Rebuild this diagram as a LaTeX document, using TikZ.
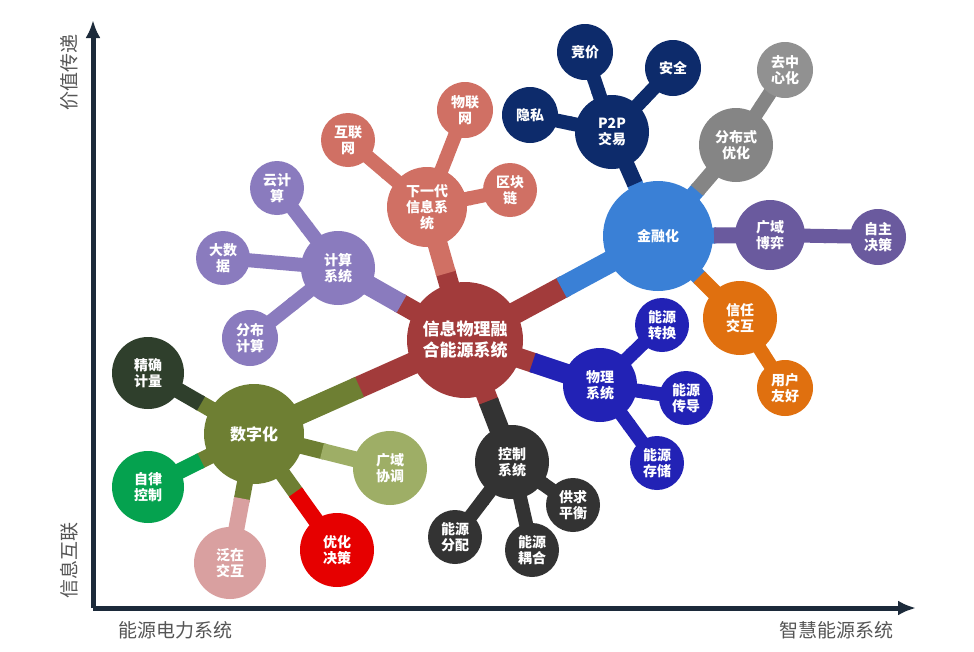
\documentclass[tikz,border=0pt]{standalone}
\usepackage{fontspec}
\setmainfont{Noto Sans CJK SC}
\usetikzlibrary{calc,arrows.meta}
\pgfdeclarelayer{paper}
\pgfdeclarelayer{background}
\pgfsetlayers{paper,background,main}
\definecolor{cCen}{HTML}{A23B3B}
\definecolor{cNext}{HTML}{D07064}
\definecolor{cComp}{HTML}{8A7BBE}
\definecolor{cFin}{HTML}{3A80D6}
\definecolor{cPtp}{HTML}{0D2B6B}
\definecolor{cDist}{HTML}{858585}
\definecolor{cGame}{HTML}{6A5A9E}
\definecolor{cTrust}{HTML}{E0700F}
\definecolor{cPhys}{HTML}{2222B5}
\definecolor{cCtrl}{HTML}{333333}
\definecolor{cDigi}{HTML}{6E7F33}
\definecolor{cJq}{HTML}{2F3F2C}
\definecolor{cZl}{HTML}{05A24F}
\definecolor{cFz}{HTML}{D9A0A0}
\definecolor{cYh}{HTML}{E60000}
\definecolor{cGy}{HTML}{9EAE66}
\definecolor{cAxis}{HTML}{1C2A3A}
\definecolor{cLbl}{HTML}{555555}
\tikzset{
  bub/.style={circle,inner sep=0pt,text=white,align=center,font=\fontsize{14}{16}\selectfont\bfseries},
  axislbl/.style={text=cLbl,font=\fontsize{19}{21}\selectfont}
}
\newcommand{\mybranch}[5]{%
  \begin{pgfonlayer}{background}
  \draw[line width=#5,#3] (#1.center) -- ($(#1)!0.52!(#2)$);
  \draw[line width=#5,#4] ($(#1)!0.5!(#2)$) -- (#2.center);
  \end{pgfonlayer}}
\begin{document}
\begin{tikzpicture}[x=1pt,y=-1pt]
\begin{pgfonlayer}{paper}
\fill[white] (0,0) rectangle (974,651);
\end{pgfonlayer}
\useasboundingbox (0,0) rectangle (974,651);
% axes
\coordinate (o) at (93,608);
\coordinate (ytop) at (93,20);
\coordinate (xend) at (916,608);
\draw[cAxis,line width=5,-{Latex[length=18,width=15]}] (o) -- (ytop);
\draw[cAxis,line width=5,-{Latex[length=18,width=15]}] (o) -- (xend);
\node[axislbl,rotate=90] (ly1) at (69,72) {价值传递};
\node[axislbl,rotate=90] (ly2) at (69,560) {信息互联};
\node[axislbl] (lx1) at (175,630) {能源电力系统};
\node[axislbl] (lx2) at (836,630) {智慧能源系统};
% center
\node[bub,fill=cCen,minimum size=116,font=\fontsize{17}{21}\selectfont\bfseries] (cen) at (465,340) {信息物理融\\合能源系统};
% next-gen info
\node[bub,fill=cNext,minimum size=80] (nx) at (427,207) {下一代\\信息系\\统};
\node[bub,fill=cNext,minimum size=54] (nx1) at (348,140) {互联\\网};
\node[bub,fill=cNext,minimum size=56] (nx2) at (465,110) {物联\\网};
\node[bub,fill=cNext,minimum size=54] (nx3) at (510,190) {区块\\链};
% compute
\node[bub,fill=cComp,minimum size=74] (cp) at (338,268) {计算\\系统};
\node[bub,fill=cComp,minimum size=54] (cp1) at (277,188) {云计\\算};
\node[bub,fill=cComp,minimum size=54] (cp2) at (223,258) {大数\\据};
\node[bub,fill=cComp,minimum size=56] (cp3) at (250,338) {分布\\计算};
% finance
\node[bub,fill=cFin,minimum size=110] (fin) at (658,236) {金融化};
\node[bub,fill=cPtp,minimum size=74] (pp) at (612,132) {P2P\\交易};
\node[bub,fill=cPtp,minimum size=56] (pp1) at (585,52) {竞价};
\node[bub,fill=cPtp,minimum size=56] (pp2) at (673,68) {安全};
\node[bub,fill=cPtp,minimum size=56] (pp3) at (530,115) {隐私};
\node[bub,fill=cDist,minimum size=74] (ds) at (736,145) {分布式\\优化};
\node[bub,fill=cDist!90!white,minimum size=56] (ds1) at (785,70) {去中\\心化};
\node[bub,fill=cGame,minimum size=70] (gm) at (770,235) {广域\\博弈};
\node[bub,fill=cGame,minimum size=56] (gm1) at (878,237) {自主\\决策};
\node[bub,fill=cTrust,minimum size=74] (tr) at (740,318) {信任\\交互};
\node[bub,fill=cTrust,minimum size=56] (tr1) at (785,388) {用户\\友好};
% physical
\node[bub,fill=cPhys,minimum size=74] (ph) at (600,385) {物理\\系统};
\node[bub,fill=cPhys,minimum size=54] (ph1) at (662,325) {能源\\转换};
\node[bub,fill=cPhys,minimum size=54] (ph2) at (686,398) {能源\\传导};
\node[bub,fill=cPhys,minimum size=54] (ph3) at (657,463) {能源\\存储};
% control
\node[bub,fill=cCtrl,minimum size=74] (ct) at (512,462) {控制\\系统};
\node[bub,fill=cCtrl,minimum size=54] (ct1) at (455,537) {能源\\分配};
\node[bub,fill=cCtrl,minimum size=54] (ct2) at (532,550) {能源\\耦合};
\node[bub,fill=cCtrl,minimum size=54] (ct3) at (573,505) {供求\\平衡};
% digital
\node[bub,fill=cDigi,minimum size=100,font=\fontsize{16}{18}\selectfont\bfseries] (dg) at (254,434) {数字化};
\node[bub,fill=cJq,minimum size=72] (dg1) at (148,373) {精确\\计量};
\node[bub,fill=cZl,minimum size=72] (dg2) at (148,487) {自律\\控制};
\node[bub,fill=cFz,minimum size=72] (dg3) at (230,563) {泛在\\交互};
\node[bub,fill=cYh,minimum size=74] (dg4) at (337,550) {优化\\决策};
\node[bub,fill=cGy,minimum size=74] (dg5) at (390,468) {广域\\协调};
% branches from center
\mybranch{cen}{nx}{cCen}{cNext}{20}
\mybranch{cen}{cp}{cCen}{cComp}{20}
\mybranch{cen}{fin}{cCen}{cFin}{22}
\mybranch{cen}{ph}{cCen}{cPhys}{20}
\mybranch{cen}{ct}{cCen}{cCtrl}{20}
\mybranch{cen}{dg}{cCen}{cDigi}{22}
% leaves
\mybranch{nx}{nx1}{cNext}{cNext}{14}
\mybranch{nx}{nx2}{cNext}{cNext}{14}
\mybranch{nx}{nx3}{cNext}{cNext}{14}
\mybranch{cp}{cp1}{cComp}{cComp}{14}
\mybranch{cp}{cp2}{cComp}{cComp}{14}
\mybranch{cp}{cp3}{cComp}{cComp}{14}
\mybranch{fin}{pp}{cFin}{cPtp}{16}
\mybranch{fin}{ds}{cFin}{cDist}{16}
\mybranch{fin}{gm}{cFin}{cGame}{16}
\mybranch{fin}{tr}{cFin}{cTrust}{16}
\mybranch{pp}{pp1}{cPtp}{cPtp}{14}
\mybranch{pp}{pp2}{cPtp}{cPtp}{14}
\mybranch{pp}{pp3}{cPtp}{cPtp}{14}
\mybranch{ds}{ds1}{cDist}{cDist}{14}
\mybranch{gm}{gm1}{cGame}{cGame}{14}
\mybranch{tr}{tr1}{cTrust}{cTrust}{14}
\mybranch{ph}{ph1}{cPhys}{cPhys}{14}
\mybranch{ph}{ph2}{cPhys}{cPhys}{14}
\mybranch{ph}{ph3}{cPhys}{cPhys}{14}
\mybranch{ct}{ct1}{cCtrl}{cCtrl}{14}
\mybranch{ct}{ct2}{cCtrl}{cCtrl}{14}
\mybranch{ct}{ct3}{cCtrl}{cCtrl}{14}
\mybranch{dg}{dg1}{cDigi}{cJq}{16}
\mybranch{dg}{dg2}{cDigi}{cZl}{16}
\mybranch{dg}{dg3}{cDigi}{cFz}{16}
\mybranch{dg}{dg4}{cDigi}{cYh}{16}
\mybranch{dg}{dg5}{cDigi}{cGy}{16}
\end{tikzpicture}
\end{document}
